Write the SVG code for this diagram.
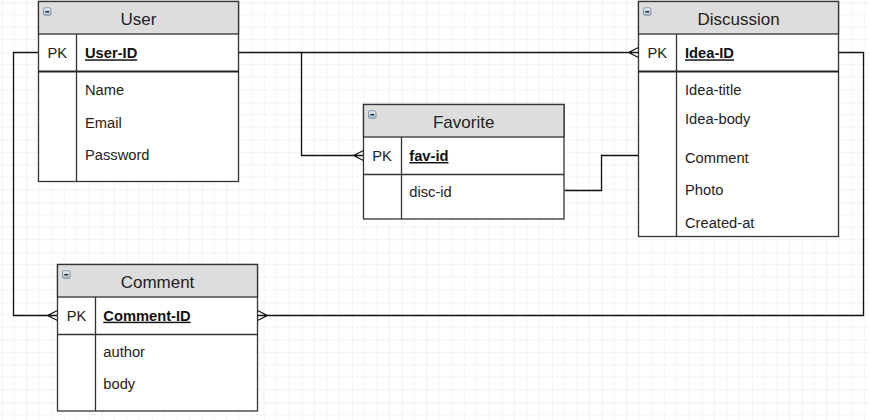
<svg xmlns="http://www.w3.org/2000/svg" width="869" height="420" viewBox="0 0 869 420">
<defs>
<pattern id="grid" patternUnits="userSpaceOnUse" x="1.7" y="2.2" width="50" height="50">
<path d="M12.5,0V50M25,0V50M37.5,0V50M0,12.5H50M0,25H50M0,37.5H50" stroke="#f3f3f3" stroke-width="1" fill="none"/>
<path d="M0,0V50M0,0H50" stroke="#e6e6e6" stroke-width="1" fill="none"/>
</pattern>
<linearGradient id="ig" x1="0" y1="0" x2="0" y2="1">
<stop offset="0" stop-color="#eef3f8"/>
<stop offset="1" stop-color="#a4b8cc"/>
</linearGradient>
<g id="icon">
<rect x="0" y="0" width="7.5" height="7.5" rx="1.3" fill="url(#ig)" stroke="#7b8ea3" stroke-width="0.9"/>
<path d="M1.8,3.9H5.7" stroke="#2a2a2a" stroke-width="1.5"/>
</g>
</defs>
<style>
.box{fill:#fff;stroke:#333;stroke-width:1.3}
.hdr{fill:#dddddd;stroke:#333;stroke-width:1.3}
.ln{stroke:#333;stroke-width:1.3;fill:none}
.ln2{stroke:#222;stroke-width:2;fill:none}
.title{font-family:"Liberation Sans",Arial,sans-serif;font-size:17px;fill:#222;text-anchor:middle}
.f{font-family:"Liberation Sans",Arial,sans-serif;font-size:14.7px;fill:#222}
.k{font-family:"Liberation Sans",Arial,sans-serif;font-size:14.7px;fill:#111;font-weight:bold;text-decoration:underline}
.c{stroke:#111;stroke-width:1.3;fill:none}
</style>
<rect x="0" y="0" width="869" height="420" fill="#fff"/>
<rect x="0" y="0" width="869" height="420" fill="url(#grid)"/>

<g id="connectors">
<path class="c" d="M238.5,52.5H638.5M628.5,52.5L638.5,47.5M628.5,52.5L638.5,57.5"/>
<path class="c" d="M301.5,52.5V155.5H363.5M353.5,155.5L363.5,150.5M353.5,155.5L363.5,160.5"/>
<path class="c" d="M564.5,190.5H601.5V155.5H638.5"/>
<path class="c" d="M38.5,52.5H13.5V315.5H57.5M47.5,315.5L57.5,310.5M47.5,315.5L57.5,320.5"/>
<path class="c" d="M838.5,52.5H863.5V315.5H257.5M267.5,315.5L257.5,310.5M267.5,315.5L257.5,320.5"/>
</g>

<g id="user">
<rect class="box" x="38.5" y="1.5" width="200" height="180"/>
<rect class="hdr" x="38.5" y="1.5" width="200" height="32.5"/>
<use href="#icon" x="43.5" y="7.8"/>
<text class="title" x="138.5" y="25">User</text>
<path class="ln2" d="M38.5,71.5H238.5"/>
<path class="ln" d="M76.5,34V181.5"/>
<text class="f" x="47.5" y="58.3">PK</text>
<text class="k" x="85" y="58.3">User-ID</text>
<text class="f" x="85" y="95">Name</text>
<text class="f" x="85" y="127.7">Email</text>
<text class="f" x="85" y="159.5">Password</text>
</g>

<g id="discussion">
<rect class="box" x="638.5" y="1.5" width="200" height="235"/>
<rect class="hdr" x="638.5" y="1.5" width="200" height="32.5"/>
<use href="#icon" x="643.5" y="7.8"/>
<text class="title" x="738.5" y="25">Discussion</text>
<path class="ln2" d="M638.5,71.5H838.5"/>
<path class="ln" d="M676.5,34V236.5"/>
<text class="f" x="647.5" y="58.3">PK</text>
<text class="k" x="685" y="58.3">Idea-ID</text>
<text class="f" x="685" y="95">Idea-title</text>
<text class="f" x="685" y="124.3">Idea-body</text>
<text class="f" x="685" y="162.7">Comment</text>
<text class="f" x="685" y="195">Photo</text>
<text class="f" x="685" y="227.7">Created-at</text>
</g>

<g id="favorite">
<rect class="box" x="363.5" y="104.5" width="200.5" height="114.5"/>
<rect class="hdr" x="363.5" y="104.5" width="200.5" height="32.5"/>
<use href="#icon" x="368.5" y="110.8"/>
<text class="title" x="463.7" y="127.8">Favorite</text>
<path class="ln" d="M363.5,174.5H564"/>
<path class="ln" d="M401.5,137V219"/>
<text class="f" x="372.3" y="161">PK</text>
<text class="k" x="409.3" y="161">fav-id</text>
<text class="f" x="409.3" y="197.3">disc-id</text>
</g>

<g id="comment">
<rect class="box" x="57.5" y="264.5" width="200" height="146.5"/>
<rect class="hdr" x="57.5" y="264.5" width="200" height="32.5"/>
<use href="#icon" x="62.5" y="270.8"/>
<text class="title" x="157.5" y="287.8">Comment</text>
<path class="ln" d="M57.5,334.5H257.5"/>
<path class="ln" d="M95.5,297V411"/>
<text class="f" x="66.7" y="320.7">PK</text>
<text class="k" x="103.3" y="320.7">Comment-ID</text>
<text class="f" x="103.3" y="357.3">author</text>
<text class="f" x="103.3" y="389.3">body</text>
</g>
</svg>
